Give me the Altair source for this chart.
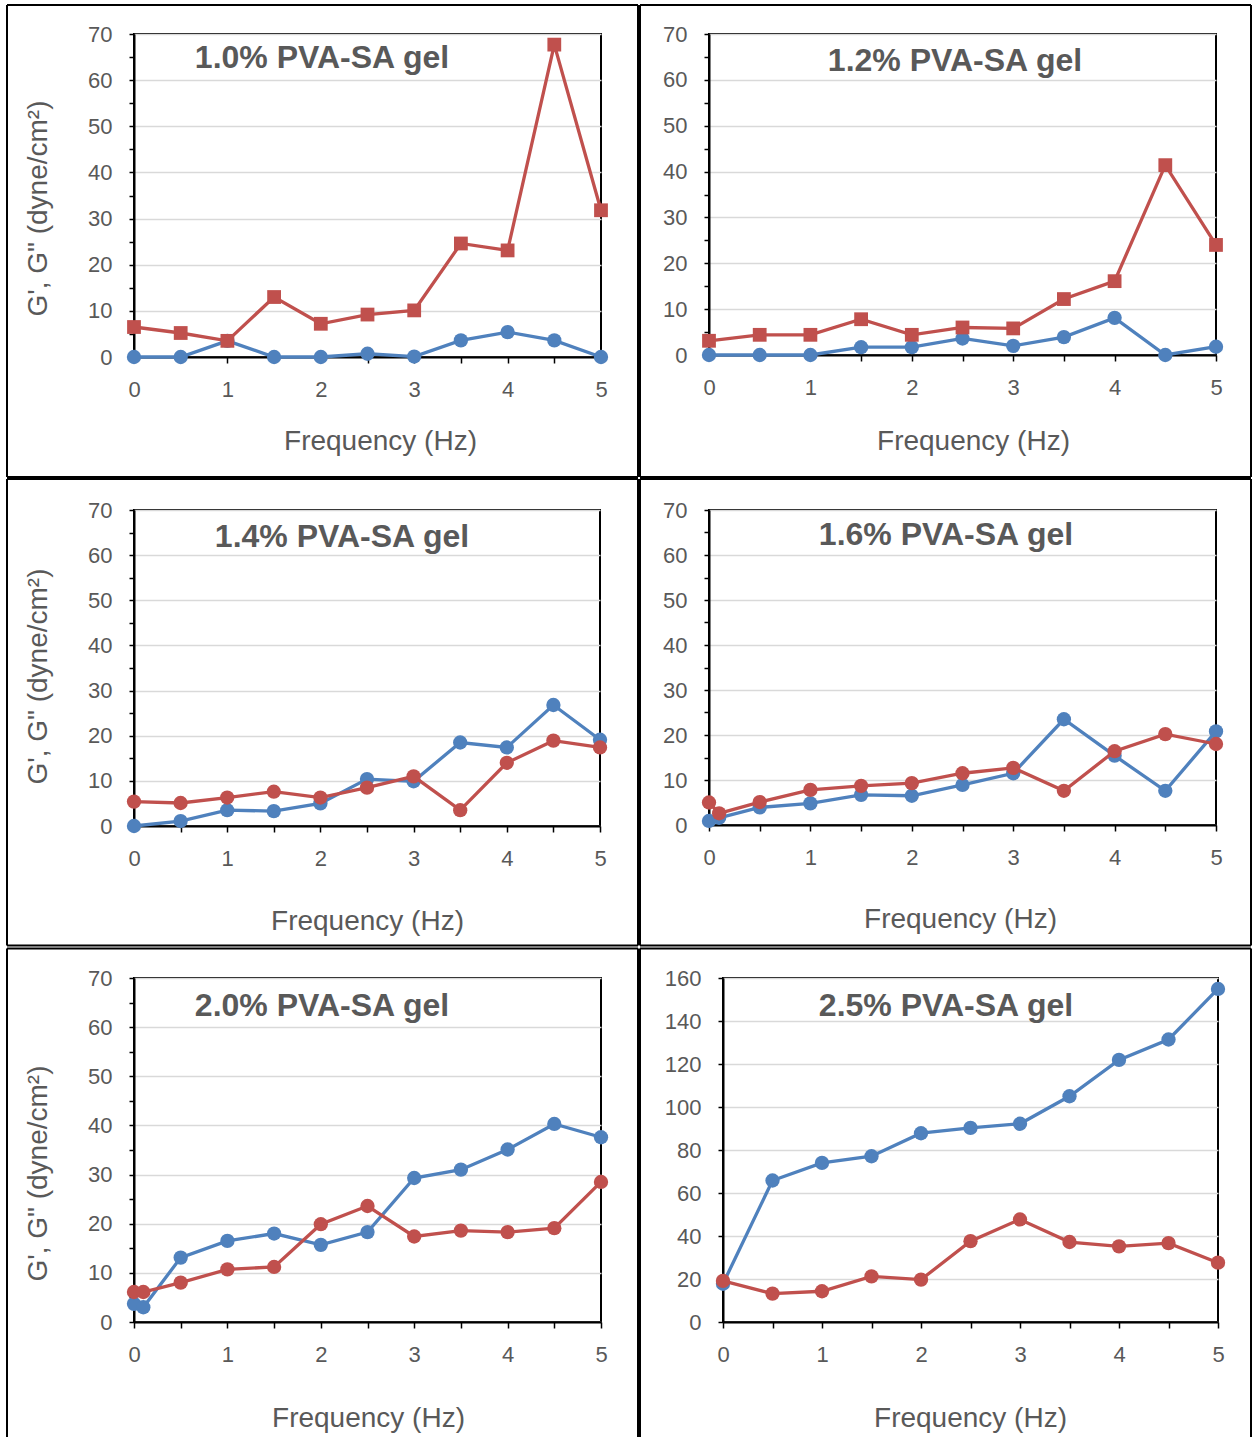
import altair as alt
import pandas as pd

# ---------------- data ----------------
FREQ_11 = [0, 0.5, 1, 1.5, 2, 2.5, 3, 3.5, 4, 4.5, 5]
FREQ_12 = [0, 0.1, 0.5, 1, 1.5, 2, 2.5, 3, 3.5, 4, 4.5, 5]

TITLES = ["1.0% PVA-SA gel", "1.2% PVA-SA gel", "1.4% PVA-SA gel",
          "1.6% PVA-SA gel", "2.0% PVA-SA gel", "2.5% PVA-SA gel"]

P1_G1 = [0, 0, 3.5, 0, 0, 0.7, 0.1, 3.6, 5.4, 3.6, 0]
P1_G2 = [6.5, 5.2, 3.5, 13.0, 7.2, 9.2, 10.1, 24.6, 23.1, 67.7, 31.8]

P2_G1 = [0, 0, 0, 1.7, 1.7, 3.6, 2.0, 3.9, 8.1, 0, 1.8]
P2_G2 = [3.1, 4.4, 4.4, 7.8, 4.4, 6.0, 5.8, 12.2, 16.1, 41.4, 24.0]

P3_G1 = [0, 1.1, 3.5, 3.3, 5.0, 10.4, 9.9, 18.5, 17.4, 26.8, 19.1]
P3_G2 = [5.4, 5.1, 6.3, 7.6, 6.3, 8.5, 11.0, 3.5, 14.0, 18.9, 17.4]

P4_G1 = [0.9, 1.6, 3.9, 4.8, 6.7, 6.5, 8.9, 11.5, 23.5, 15.4, 7.6, 20.8]
P4_G2 = [5.0, 2.6, 5.1, 7.8, 8.7, 9.3, 11.5, 12.7, 7.6, 16.4, 20.2, 18.0]

P5_G1 = [3.7, 3.0, 13.1, 16.5, 18.0, 15.7, 18.3, 29.3, 31.0, 35.1, 40.3, 37.6]
P5_G2 = [6.1, 6.1, 8.0, 10.7, 11.2, 19.9, 23.6, 17.4, 18.6, 18.3, 19.1, 28.5]

P6_G1 = [17.8, 65.8, 74.0, 77.1, 87.8, 90.3, 92.2, 105.0, 121.9, 131.4, 154.9]
P6_G2 = [19.1, 13.2, 14.3, 21.2, 19.7, 37.6, 47.7, 37.2, 35.2, 36.7, 27.6]

X_TICKS = [0, 0.5, 1, 1.5, 2, 2.5, 3, 3.5, 4, 4.5, 5]
Y_TICKS_70 = list(range(0, 71, 5))
Y_TICKS_160 = list(range(0, 161, 20))

Y_TITLE = "G', G\" (dyne/cm²)"
X_TITLE = "Frequency (Hz)"

BLUE = "#4F81BD"
RED = "#C0504D"
FONT = "Liberation Sans"
TXT = "#595959"


def rule(x1, x2, y1, y2):
    return alt.Chart(alt.Data(values=[{"k": 0}])).mark_rule(
        color="black", strokeWidth=2
    ).encode(x=alt.value(x1), x2=alt.value(x2), y=alt.value(y1), y2=alt.value(y2))


def panel(title, freq, g1, g2, W, H, ymax, yticks, ystep, shape2,
          frame, title_pos, xt_pos, yt_pos, bottom_line=True):
    d1 = pd.DataFrame({"f": freq, "v": g1})
    d2 = pd.DataFrame({"f": freq, "v": g2})

    x_axis = alt.Axis(
        values=X_TICKS,
        labelExpr="datum.value % 1 === 0 ? format(datum.value, 'd') : ''",
        labelFlush=False,
        grid=False, tickSize=6, labelPadding=16,
        title=X_TITLE, titleX=xt_pos[0], titleY=xt_pos[1],
        titleAlign="center", titleBaseline="middle",
    )
    y_kwargs = dict(
        values=yticks,
        labelExpr=f"datum.value % {ystep} === 0 ? datum.label : ''",
        labelFlush=False,
        gridOpacity={"condition": {"test": f"datum.value % {ystep} === 0", "value": 1}, "value": 0},
        tickSize=5, labelPadding=17,
    )
    if yt_pos is not None:
        y_axis = alt.Axis(title=Y_TITLE, titleX=yt_pos[0], titleY=yt_pos[1],
                          titleAlign="center", titleBaseline="middle", **y_kwargs)
    else:
        y_axis = alt.Axis(title=None, **y_kwargs)

    x = alt.X("f:Q", scale=alt.Scale(domain=[0, 5], nice=False, zero=False), axis=x_axis)
    y = alt.Y("v:Q", scale=alt.Scale(domain=[0, ymax], nice=False), axis=y_axis)

    l1 = alt.Chart(d1).mark_line(color=BLUE, strokeWidth=3.3).encode(x=x, y=y)
    p1 = alt.Chart(d1).mark_point(shape="circle", filled=True, opacity=1,
                                  color=BLUE, size=205).encode(x=x, y=y)
    l2 = alt.Chart(d2).mark_line(color=RED, strokeWidth=3.3).encode(x=x, y=y)
    p2 = alt.Chart(d2).mark_point(shape=shape2, filled=True, opacity=1,
                                  color=RED, size=190 if shape2 == "square" else 205).encode(x=x, y=y)

    ttl = alt.Chart(alt.Data(values=[{"t": title}])).mark_text(
        font=FONT, fontSize=32, fontWeight="bold", color=TXT,
        align="center", baseline="alphabetic"
    ).encode(x=alt.value(title_pos[0]), y=alt.value(title_pos[1]), text="t:N")

    L, R, T, B = frame
    rules = [rule(L, L, T, B), rule(R, R, T, B), rule(L, R, T, T)]
    if bottom_line:
        rules.append(rule(L, R, B, B))

    return alt.layer(l1, p1, l2, p2, ttl, *rules).properties(width=W, height=H)


pan1 = panel(TITLES[0], FREQ_11, P1_G1, P1_G2, 467, 323, 70, Y_TICKS_70, 10, "square",
             (-127, 504, -29, 443), (188, 34), (246, 84), (-96, 174))
pan2 = panel(TITLES[1], FREQ_11, P2_G1, P2_G2, 507, 321, 70, Y_TICKS_70, 10, "square",
             (-69, 542, -29, 443), (246, 37), (264, 86), None)
pan3 = panel(TITLES[2], FREQ_11, P3_G1, P3_G2, 466, 316, 70, Y_TICKS_70, 10, "circle",
             (-127, 504, -31, 435.5), (208, 37), (233, 95), (-96, 166))
pan4 = panel(TITLES[3], FREQ_12, P4_G1, P4_G2, 507, 315, 70, Y_TICKS_70, 10, "circle",
             (-69, 542, -31, 435.5), (237, 35), (251, 94), None)
pan5 = panel(TITLES[4], FREQ_12, P5_G1, P5_G2, 467, 344, 70, Y_TICKS_70, 10, "circle",
             (-127, 504, -29.5, 459), (188, 38), (234, 96), (-96, 195), bottom_line=False)
pan6 = panel(TITLES[5], FREQ_11, P6_G1, P6_G2, 495, 344, 160, Y_TICKS_160, 20, "circle",
             (-83, 528, -29.5, 459), (223, 38), (247, 96), None, bottom_line=False)

row1 = alt.hconcat(pan1, pan2, spacing=-2)
row2 = alt.hconcat(pan3, pan4, spacing=-2)
row3 = alt.hconcat(pan5, pan6, spacing=-2)

chart = alt.vconcat(row1, row2, row3, spacing=-2).properties(
    padding={"left": 5, "top": 3, "right": 0, "bottom": 0},
    background="white",
).configure_view(
    stroke="black", strokeWidth=2
).configure_axis(
    domainColor="black", domainWidth=2,
    tickColor="black", tickWidth=1.5,
    gridColor="#D9D9D9", gridWidth=1.5,
    labelFont=FONT, labelFontSize=22, labelColor=TXT,
    titleFont=FONT, titleFontSize=28, titleColor=TXT, titleFontWeight="normal",
)

chart.save("out.html", embed_options={"renderer": "svg", "actions": False})
